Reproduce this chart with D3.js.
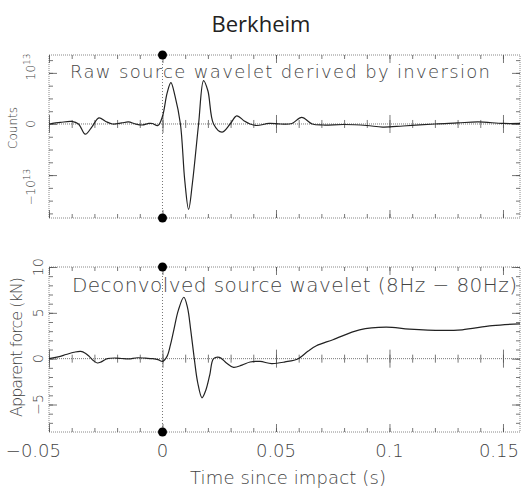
<!DOCTYPE html>
<html>
<head>
<meta charset="utf-8">
<script src="https://cdn.jsdelivr.net/npm/d3@7"></script>
<style>
    body { margin: 0; background: #fff; }
    svg { display: block; }
    .thin { font-family: "DejaVu Sans", sans-serif; font-weight: 200; fill: #444; }
    .tick line { stroke: #555; }
</style>
</head>
<body>
<div id="chart"></div>
<script>
// time axis (s)
var xDomain = [-0.05, 0.1575];
var xLabelTicks = [-0.05, 0, 0.05, 0.1, 0.15];
var xMinorTicks = d3.range(-5, 16).map(function (i) { return i / 100; });
var markerTimes = [0];

// raw source wavelet, counts in units of 1e13
var rawTime = [-0.05, -0.045, -0.040, -0.037, -0.034, -0.031, -0.028, -0.025, -0.022, -0.018,
    -0.015, -0.012, -0.009, -0.006, -0.0045, -0.002, 0.0, 0.002, 0.0037, 0.0055,
    0.0079, 0.0098, 0.0115, 0.0132, 0.0159, 0.0181, 0.020, 0.0225, 0.0262, 0.0298,
    0.0327, 0.036, 0.0386, 0.0415, 0.047, 0.052, 0.057, 0.0613, 0.066, 0.0707,
    0.08, 0.09, 0.097, 0.106, 0.12, 0.13, 0.139, 0.15, 0.1575];
var rawCounts = [0.0, 0.03, 0.05, 0.0, -0.2, -0.05, 0.12, 0.05, 0.0, 0.02,
    0.04, 0.0, -0.02, 0.01, 0.01, -0.03, 0.15, 0.6, 0.81, 0.55,
    0.0, -1.1, -1.67, -1.15, 0.0, 0.85, 0.65, 0.0, -0.16, 0.0,
    0.16, 0.06, 0.0, -0.03, 0.01, 0.0, 0.01, 0.13, 0.0, -0.02,
    -0.01, -0.03, -0.06, -0.04, 0.0, 0.02, 0.04, 0.01, 0.01];
var rawDomain = [-1.84, 1.35];
var rawMajor = [-1, 0, 1];

// deconvolved source wavelet, kN
var decTime = [-0.05, -0.046, -0.0425, -0.039, -0.036, -0.034, -0.0323, -0.0305, -0.0287, -0.027,
    -0.0243, -0.0206, -0.018, -0.015, -0.011, -0.0075, -0.0045, -0.002, 0.0, 0.002,
    0.0035, 0.005, 0.007, 0.0094, 0.011, 0.0125, 0.014, 0.0155, 0.0174, 0.019,
    0.0208, 0.0225, 0.0251, 0.0283, 0.0313, 0.035, 0.0386, 0.043, 0.0481, 0.054,
    0.0598, 0.064, 0.0678, 0.0751, 0.0868, 0.0985, 0.1088, 0.1234, 0.132, 0.1453, 0.1575];
var decForce = [0.0, 0.2, 0.45, 0.7, 0.8, 0.6, 0.25, -0.2, -0.47, -0.35,
    0.0, 0.07, 0.02, -0.03, 0.1, 0.05, 0.0, -0.1, -0.3, 0.25,
    1.5, 3.15, 5.3, 6.7, 5.6, 3.0, 0.0, -2.6, -4.27, -3.5,
    -1.8, 0.0, 0.15, -0.5, -0.95, -0.7, -0.36, -0.3, -0.54, -0.35,
    0.0, 0.8, 1.41, 2.07, 3.15, 3.44, 3.22, 3.08, 3.15, 3.6, 3.8];
var decDomain = [-8, 10];
var decMajor = [-5, 0, 5, 10];

var W = 522, H = 494;
var svg = d3.select("#chart").append("svg").attr("width", W).attr("height", H);

var x = d3.scaleLinear().domain(xDomain).range([49, 520]);

svg.append("text")
    .attr("x", 261).attr("y", 32)
    .attr("text-anchor", "middle")
    .style("font-family", "'Open Sans', sans-serif")
    .style("font-size", "22px")
    .style("fill", "#222")
    .text("Berkheim");

function drawPanel(opt) {
    var y = d3.scaleLinear().domain(opt.domain).range([opt.bottom, opt.top]);
    var g = svg.append("g");
    var left = x.range()[0], right = x.range()[1];

    // dotted frame
    g.append("rect")
        .attr("x", left).attr("y", opt.top)
        .attr("width", right - left).attr("height", opt.bottom - opt.top)
        .attr("fill", "none").attr("stroke", "#888")
        .attr("stroke-dasharray", "1,1");

    function xTicks(axisFn, yPos, vals, size) {
        var a = g.append("g").attr("transform", "translate(0," + yPos + ")")
            .call(axisFn(x).tickValues(vals).tickSize(size).tickFormat(""));
        a.select(".domain").remove();
        a.selectAll(".tick line").attr("stroke", "#555").attr("stroke-width", 0.8);
    }
    function yTicks(axisFn, xPos, vals, size) {
        var a = g.append("g").attr("transform", "translate(" + xPos + ",0)")
            .call(axisFn(y).tickValues(vals).tickSize(size).tickFormat(""));
        a.select(".domain").remove();
        a.selectAll(".tick line").attr("stroke", "#555").attr("stroke-width", 0.8);
    }
    var xMajor = xMinorTicks.filter(function (d) { return Math.abs(Math.round(d * 20) - d * 20) < 1e-6; });

    // frame ticks pointing inward
    xTicks(d3.axisBottom, opt.bottom, xMinorTicks, -4);
    xTicks(d3.axisBottom, opt.bottom, xMajor, -8);
    xTicks(d3.axisTop, opt.top, xMinorTicks, -4);
    xTicks(d3.axisTop, opt.top, xMajor, -8);
    yTicks(d3.axisLeft, left, opt.minor, -4);
    yTicks(d3.axisLeft, left, opt.major, -8);
    yTicks(d3.axisRight, right, opt.minor, -4);
    yTicks(d3.axisRight, right, opt.major, -8);

    // zero line with crosses
    g.append("line")
        .attr("x1", left).attr("x2", right)
        .attr("y1", y(0)).attr("y2", y(0))
        .attr("stroke", "#777").attr("stroke-dasharray", "1,1");
    xTicks(d3.axisBottom, y(0), xMinorTicks, 4);
    xTicks(d3.axisTop, y(0), xMinorTicks, 4);
    xTicks(d3.axisBottom, y(0), xMajor, 9);
    xTicks(d3.axisTop, y(0), xMajor, 9);

    // impact time marker
    g.selectAll(".marker").data(markerTimes).enter().append("line")
        .attr("x1", function (d) { return x(d); }).attr("x2", function (d) { return x(d); })
        .attr("y1", opt.top).attr("y2", opt.bottom)
        .attr("stroke", "#777").attr("stroke-dasharray", "1,2");

    var pts = opt.t.map(function (d, i) { return [d, opt.v[i]]; });
    var line = d3.line()
        .x(function (d) { return x(d[0]); })
        .y(function (d) { return y(d[1]); })
        .curve(d3.curveCatmullRom);
    g.append("path").datum(pts)
        .attr("d", line)
        .attr("fill", "none").attr("stroke", "#222").attr("stroke-width", 1.2);

    markerTimes.forEach(function (t) {
        g.append("circle").attr("cx", x(t)).attr("cy", opt.top).attr("r", 4.5).attr("fill", "#000");
        g.append("circle").attr("cx", x(t)).attr("cy", opt.bottom).attr("r", 4.5).attr("fill", "#000");
    });

    g.append("text").attr("class", "thin")
        .attr("x", opt.noteX).attr("y", opt.noteY)
        .attr("textLength", opt.noteLen).attr("lengthAdjust", "spacing")
        .style("font-size", opt.noteSize + "px")
        .text(opt.note);

    return y;
}

var yRaw = drawPanel({
    top: 55, bottom: 218, domain: rawDomain,
    major: rawMajor, minor: d3.range(-7, 6).map(function (i) { return i / 4; }),
    t: rawTime, v: rawCounts,
    note: "Raw source wavelet derived by inversion", noteX: 70, noteY: 78, noteLen: 420, noteSize: 18
});
var yDec = drawPanel({
    top: 267, bottom: 432, domain: decDomain,
    major: decMajor, minor: d3.range(-7, 11),
    t: decTime, v: decForce,
    note: "Deconvolved source wavelet (8Hz \u2212 80Hz)", noteX: 72, noteY: 292, noteLen: 445, noteSize: 20
});

// y tick labels, rotated
function rotLabel(px, py, size) {
    return svg.append("text").attr("class", "thin")
        .attr("transform", "translate(" + px + "," + py + ") rotate(-90)")
        .attr("text-anchor", "middle")
        .style("font-size", size + "px");
}
var t1 = rotLabel(35, yRaw(1) - 6, 12);
t1.append("tspan").text("10");
t1.append("tspan").attr("dy", -5).style("font-size", "9px").text("13");
rotLabel(35, yRaw(0), 12).text("0");
var t2 = rotLabel(35, yRaw(-1) + 12, 12);
t2.append("tspan").text("\u221210");
t2.append("tspan").attr("dy", -5).style("font-size", "9px").text("13");
rotLabel(17, 128, 12).text("Counts");

decMajor.forEach(function (d) {
    rotLabel(43, yDec(d), 14).text(d < 0 ? "\u2212" + Math.abs(d) : d);
});
rotLabel(22, 347, 16).attr("textLength", 140).attr("lengthAdjust", "spacing").text("Apparent force (kN)");

// x tick labels; first and last are kept inside the page
svg.selectAll(".xlab").data(xLabelTicks).enter().append("text")
    .attr("class", "thin")
    .attr("x", function (d) {
        if (d < 0) return x(d) + 12;
        if (d >= 0.15) return W - 3;
        return x(d);
    })
    .attr("y", 457)
    .attr("text-anchor", function (d) {
        if (d < 0 || d >= 0.15) return "end";
        return "middle";
    })
    .style("font-size", "18px")
    .text(function (d) { return d < 0 ? "\u2212" + Math.abs(d) : d; });

svg.append("text").attr("class", "thin")
    .attr("x", 190).attr("y", 484)
    .attr("textLength", 196).attr("lengthAdjust", "spacing")
    .style("font-size", "18px")
    .text("Time since impact (s)");
</script>
</body>
</html>
